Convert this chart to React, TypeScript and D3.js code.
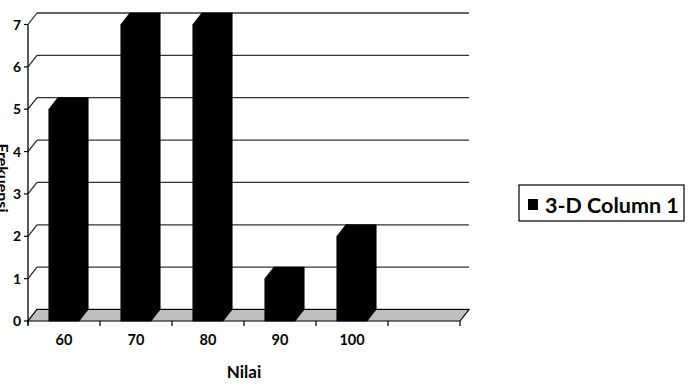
import React from "react";
import * as d3 from "d3";

const categories = ["60", "70", "80", "90", "100", ""];
const values = [5, 7, 7, 1, 2, null];
const yTicks = [0, 1, 2, 3, 4, 5, 6, 7];
const seriesName = "3-D Column 1";
const xTitle = "Nilai";
const yTitle = "Frekuensi";

const W = 690;
const H = 384;
const DX = 9;
const DY = -11.5;
const FONT = "Lato, 'Open Sans', sans-serif";

export default function App() {
  const x = d3.scaleBand<string>().domain(categories).range([28, 460]).padding(0);
  const y = d3.scaleLinear().domain([0, 7]).range([321, 24.5]);
  const bw = x.bandwidth() * 0.42;
  const y0 = y(0);
  const xl = x.range()[0];
  const xr = x.range()[1];

  return (
    <svg width={W} height={H} style={{ position: "absolute", left: 0, top: 0 }} fontFamily={FONT}>
      <rect width={W} height={H} fill="#fff" />
      {/* back wall gridlines + side wall diagonals */}
      {yTicks.map((t) => (
        <g key={t}>
          <line x1={xl + DX} x2={xr + DX} y1={y(t) + DY} y2={y(t) + DY} stroke="#333" strokeWidth={1.3} />
          <line x1={xl} x2={xl + DX} y1={y(t)} y2={y(t) + DY} stroke="#222" strokeWidth={1.2} />
          <line x1={xl - 4} x2={xl} y1={y(t)} y2={y(t)} stroke="#000" strokeWidth={1.2} />
          <text x={21} y={y(t)} dy="0.36em" textAnchor="end" fontSize={14} fontWeight="bold" fill="#000">
            {t}
          </text>
        </g>
      ))}
      {/* floor */}
      <polygon
        points={`${xl},${y0} ${xr},${y0} ${xr + DX},${y0 + DY} ${xl + DX},${y0 + DY}`}
        fill="#c0c0c0"
        stroke="#000"
        strokeWidth={1.2}
      />
      {/* y axis line */}
      <line x1={xl} x2={xl} y1={y(7)} y2={y0 + 4} stroke="#000" strokeWidth={1.3} />
      {/* x ticks */}
      {categories.map((c, i) => {
        const xs = (x(c) as number);
        return <line key={"t" + i} x1={xs} x2={xs} y1={y0} y2={y0 + 5} stroke="#000" strokeWidth={1.2} />;
      })}
      <line x1={xr} x2={xr} y1={y0} y2={y0 + 5} stroke="#000" strokeWidth={1.2} />
      {/* bars */}
      {categories.map((c, i) => {
        const v = values[i];
        if (v == null) return null;
        const cx = (x(c) as number) + x.bandwidth() / 2;
        const l = cx - bw / 2;
        const r = cx + bw / 2;
        const top = y(v);
        const pts = [
          [l, y0],
          [l, top],
          [l + DX, top + DY],
          [r + DX, top + DY],
          [r + DX, y0 + DY],
          [r, y0],
        ];
        return (
          <polygon key={"b" + i} points={pts.map((p) => p.join(",")).join(" ")} fill="#000" stroke="#000" strokeWidth={0.8} />
        );
      })}
      {/* x labels */}
      {categories.map((c, i) => (
        <text
          key={"l" + i}
          x={(x(c) as number) + x.bandwidth() / 2}
          y={345}
          textAnchor="middle"
          fontSize={14.5}
          fontWeight="bold"
          fill="#000"
        >
          {c}
        </text>
      ))}
      <text x={244} y={378} textAnchor="middle" fontSize={17} fontWeight="bold" fill="#000">
        {xTitle}
      </text>
      <text
        transform={`translate(-3,178) rotate(90)`}
        textAnchor="middle"
        fontSize={16}
        fontWeight="bold"
        fill="#000"
      >
        {yTitle}
      </text>
      {/* legend */}
      <rect x={519} y={185} width={165} height={36} fill="#fff" stroke="#000" strokeWidth={1.2} />
      <rect x={528} y={199} width={10} height={11} fill="#000" />
      <text x={545} y={213} fontSize={21.5} fontWeight="bold" fill="#000">
        {seriesName}
      </text>
    </svg>
  );
}
